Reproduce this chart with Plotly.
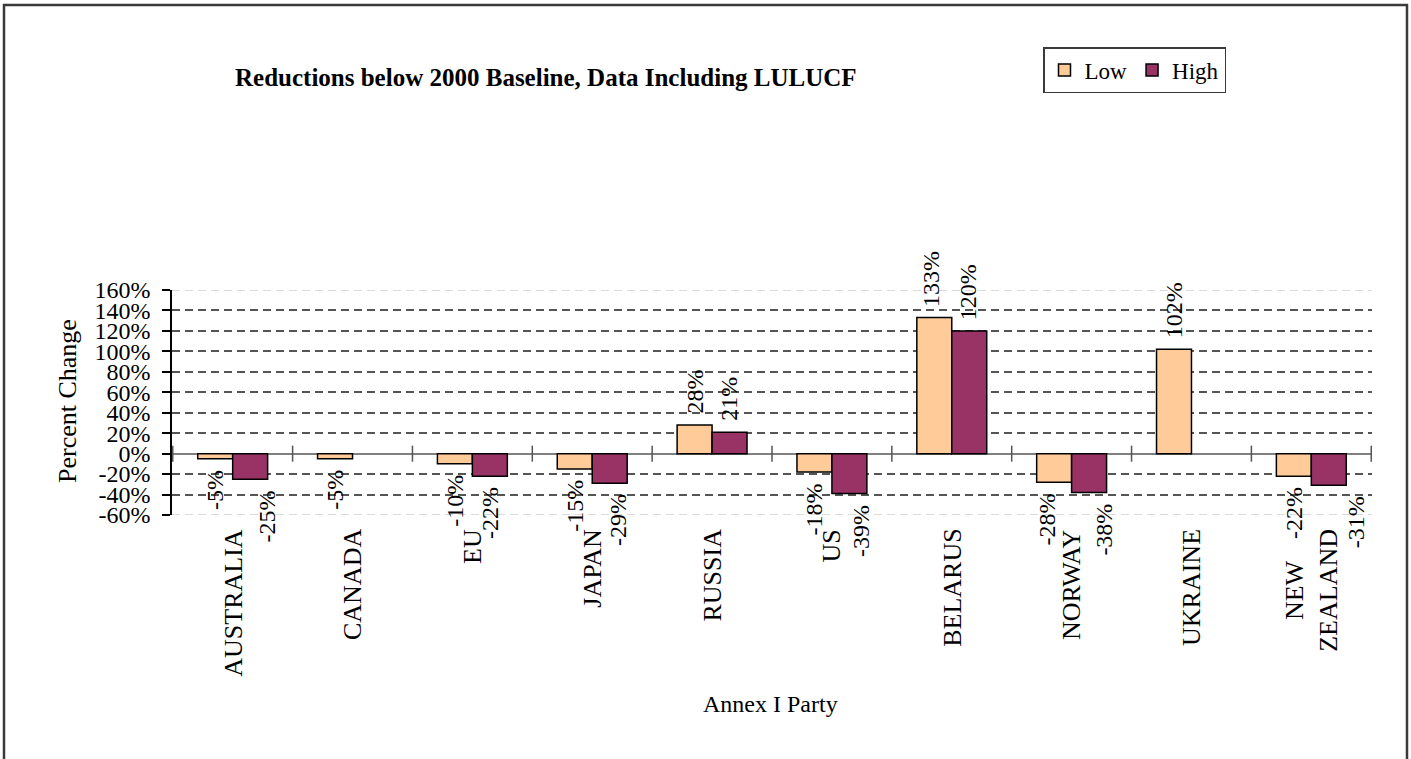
import plotly.graph_objects as go

# ---- data ----
categories = ["AUSTRALIA", "CANADA", "EU", "JAPAN", "RUSSIA", "US",
              "BELARUS", "NORWAY", "UKRAINE", "NEW<br>ZEALAND"]
low_values = [-5, -5, -10, -15, 28, -18, 133, -28, 102, -22]
high_values = [-25, None, -22, -29, 21, -39, 120, -38, None, -31]
series_names = ["Low", "High"]
y_tick_values = [-60, -40, -20, 0, 20, 40, 60, 80, 100, 120, 140, 160]
y_tick_labels = ["-60%", "-40%", "-20%", "0%", "20%", "40%", "60%", "80%",
                 "100%", "120%", "140%", "160%"]
title_text = "Reductions below 2000 Baseline, Data Including LULUCF"
x_title = "Annex I Party"
y_title = "Percent Change"

# ---- style: horizontal nudges (px) of the value labels, as in the original ----
low_label_dx = [0, 0, 0, 0, 0, 0, -4, -7, 0, 0]
high_label_dx = [17, 0, 0, 9, 0, 11, -1, 14, 0, 28]

# ---- layout geometry ----
W, H = 1411, 759
ml, mr, mt, mb = 172, 39, 290, 244
pw, ph = W - ml - mr, H - mt - mb
BARGAP = 0.4167


def px_x(px):
    return (px - ml) / pw


def px_y(py):
    return (H - mb - py) / ph


FONT = "Liberation Serif, Times New Roman, serif"
LOW_COLOR = "#FFCC99"
HIGH_COLOR = "#993366"

fig = go.Figure()
for name, vals, color in [(series_names[0], low_values, LOW_COLOR),
                          (series_names[1], high_values, HIGH_COLOR)]:
    fig.add_trace(go.Bar(
        name=name, x=categories, y=vals,
        marker=dict(color=color, line=dict(color="black", width=1.5)),
        cliponaxis=False, hoverinfo="skip",
    ))

# value labels
cat_w = pw / len(categories)
bar_w = cat_w * (1 - BARGAP) / 2
for vals, dxs, side in [(low_values, low_label_dx, -1), (high_values, high_label_dx, 1)]:
    for cat, v, dx in zip(categories, vals, dxs):
        if v is None:
            continue
        fig.add_annotation(
            x=cat, y=v, xref="x", yref="y", text=f"{v}%", showarrow=False,
            textangle=-90, xanchor="center",
            yanchor="bottom" if v > 0 else "top",
            xshift=side * bar_w / 2 + dx, yshift=9 if v > 0 else -9,
            font=dict(family=FONT, size=24, color="black"),
        )

# category labels (rotated, lines centred like the original)
for cat in categories:
    fig.add_annotation(
        x=cat, y=0, xref="x", yref="paper", text=cat, showarrow=False,
        textangle=-90, xanchor="center", yanchor="top", align="center",
        yshift=-12, font=dict(family=FONT, size=26, color="black"),
    )

# tick marks crossing the zero line at category boundaries
for i in range(len(categories) + 1):
    fig.add_shape(type="line", xref="x", yref="y", x0=i - 0.5, x1=i - 0.5,
                  ysizemode="pixel", yanchor=0, y0=-8, y1=8,
                  line=dict(color="#555555", width=1.5))

# light gridlines at the two ends of the value range
for yv in (y_tick_values[0], y_tick_values[-1]):
    fig.add_shape(type="line", xref="paper", yref="y", x0=0, x1=1, y0=yv, y1=yv,
                  line=dict(color="#d0d0d0", width=1.5, dash="8px,5px"), layer="below")

# outer frame
fig.add_shape(type="rect", xref="paper", yref="paper",
              x0=px_x(4), x1=px_x(1407), y0=px_y(775), y1=px_y(5),
              line=dict(color="#3a3a3a", width=2.5), fillcolor="rgba(0,0,0,0)",
              layer="below")

fig.add_annotation(text=f"<b>{title_text}</b>", xref="paper", yref="paper",
                   x=px_x(546), y=px_y(78), xanchor="center", yanchor="middle",
                   showarrow=False, font=dict(family=FONT, size=25, color="black"))
fig.add_annotation(text=x_title, xref="paper", yref="paper",
                   x=px_x(770), y=px_y(704), xanchor="center", yanchor="middle",
                   showarrow=False, font=dict(family=FONT, size=24, color="black"))
fig.add_annotation(text=y_title, xref="paper", yref="paper", textangle=-90,
                   x=px_x(67), y=px_y(401), xanchor="center", yanchor="middle",
                   showarrow=False, font=dict(family=FONT, size=26, color="black"))

fig.update_layout(
    width=W, height=H,
    margin=dict(l=ml, r=mr, t=mt, b=mb, pad=0),
    paper_bgcolor="white", plot_bgcolor="white",
    barmode="group", bargap=BARGAP, bargroupgap=0,
    font=dict(family=FONT, size=24, color="black"),
    showlegend=True,
    legend=dict(orientation="h", x=px_x(1043), y=px_y(47),
                xanchor="left", yanchor="top",
                bgcolor="white", bordercolor="#3a3a3a", borderwidth=1.5,
                font=dict(family=FONT, size=23, color="black"),
                itemwidth=30, tracegroupgap=0),
    xaxis=dict(type="category", showgrid=False, showline=False, ticks="",
               showticklabels=False, zeroline=False),
    yaxis=dict(range=[-60, 160], tickvals=y_tick_values, ticktext=y_tick_labels,
               showgrid=True, gridcolor="#555555", gridwidth=1.5, griddash="8px,5px",
               zeroline=True, zerolinecolor="#808080", zerolinewidth=1.5,
               showline=True, linecolor="black", linewidth=1.5,
               ticks="outside", ticklen=8, tickcolor="black", tickwidth=1.5,
               tickfont=dict(family=FONT, size=24, color="black"),
               ticklabelstandoff=7),
)

fig.write_html("out.html", config={"displayModeBar": False},
               post_script="document.body.style.margin='0px';"
                           "document.body.style.overflow='hidden';")
